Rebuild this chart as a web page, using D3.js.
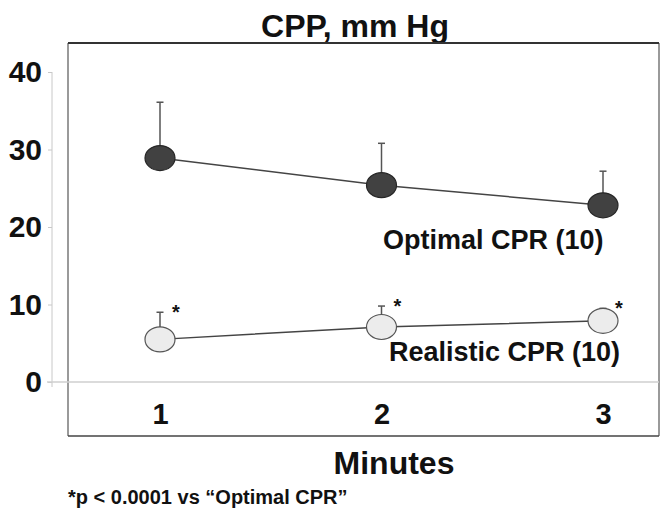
<!DOCTYPE html>
<html>
<head>
<meta charset="utf-8">
<script src="https://cdn.jsdelivr.net/npm/d3@7"></script>
<style>
  body { margin: 0; background: #fff; }
  text { font-family: "Liberation Sans", Arial, sans-serif; font-weight: bold; fill: #111; }
</style>
</head>
<body>
<div id="chart"></div>
<script>
// data
var minutes = [1, 2, 3]
var optimalMean = [28.9, 25.4, 22.8]
var optimalErr = [7.2, 5.4, 4.4]
var realisticMean = [5.5, 7.1, 7.9]
var realisticErr = [3.5, 2.7, 1.6]
var yTicks = [0, 10, 20, 30, 40]

var width = 665, height = 509

var svg = d3.select("#chart")
  .append("svg")
  .attr("width", width)
  .attr("height", height)

// scales
var x = d3.scaleLinear().domain([1, 3]).range([160, 603])
var y = d3.scaleLinear().domain([0, 40]).range([382, 72])

// title
svg.append("text")
  .attr("x", 355)
  .attr("y", 37)
  .attr("text-anchor", "middle")
  .style("font-size", "32px")
  .text("CPP, mm Hg")

// frame
var box = { left: 68, top: 43, right: 659, bottom: 436 }
svg.append("line").attr("x1", box.left).attr("x2", box.left).attr("y1", box.top).attr("y2", box.bottom)
  .attr("stroke", "#9a9a9a").attr("stroke-width", 2)
svg.append("line").attr("x1", box.right).attr("x2", box.right).attr("y1", box.top).attr("y2", box.bottom)
  .attr("stroke", "#9a9a9a").attr("stroke-width", 2)
svg.append("line").attr("x1", box.left).attr("x2", box.right).attr("y1", box.top).attr("y2", box.top)
  .attr("stroke", "#333").attr("stroke-width", 2)
svg.append("line").attr("x1", box.left).attr("x2", box.right).attr("y1", box.bottom).attr("y2", box.bottom)
  .attr("stroke", "#444").attr("stroke-width", 1.5)

// y axis (light grey, outside the box)
var yAxis = svg.append("g")
  .attr("transform", "translate(52,0)")
  .call(d3.axisLeft(y).tickValues(yTicks).tickSize(4).tickSizeOuter(0).tickFormat(d3.format("d")))
yAxis.select(".domain").attr("stroke", "#c8c8c8").attr("d", "M0," + y(40) + "V" + (y(0) + 5))
yAxis.selectAll(".tick line").attr("stroke", "#c8c8c8")
yAxis.selectAll(".tick text")
  .attr("x", -10)
  .style("font-size", "30px")
  .style("font-family", "Liberation Sans, Arial, sans-serif")
  .style("font-weight", "bold")
  .attr("fill", "#111")

// zero line
svg.append("line")
  .attr("x1", 47).attr("x2", box.right)
  .attr("y1", y(0)).attr("y2", y(0))
  .attr("stroke", "#cfcfcf").attr("stroke-width", 1.5)

// x axis labels
var xAxis = svg.append("g")
  .attr("transform", "translate(0," + y(0) + ")")
  .call(d3.axisBottom(x).tickValues(minutes).tickSize(0).tickFormat(d3.format("d")))
xAxis.select(".domain").remove()
xAxis.selectAll(".tick text")
  .attr("dy", 0)
  .attr("y", 42)
  .style("font-size", "29px")
  .style("font-family", "Liberation Sans, Arial, sans-serif")
  .style("font-weight", "bold")
  .attr("fill", "#111")

svg.append("text")
  .attr("x", 394)
  .attr("y", 474)
  .attr("text-anchor", "middle")
  .style("font-size", "32px")
  .text("Minutes")

svg.append("text")
  .attr("x", 68)
  .attr("y", 504)
  .style("font-size", "20px")
  .text("*p < 0.0001 vs \u201cOptimal CPR\u201d")

// series
var series = [
  { name: "Optimal CPR (10)", mean: optimalMean, err: optimalErr, fill: "#414141", stroke: "#262626", star: false },
  { name: "Realistic CPR (10)", mean: realisticMean, err: realisticErr, fill: "#ececec", stroke: "#555", star: true }
]

var line = d3.line()
  .x(function (d) { return x(d.m) })
  .y(function (d) { return y(d.v) })

series.forEach(function (s) {
  var pts = minutes.map(function (m, i) { return { m: m, v: s.mean[i], e: s.err[i] } })

  // error bars (upper only)
  var g = svg.append("g")
  g.selectAll(".err")
    .data(pts).enter()
    .append("line")
    .attr("x1", function (d) { return x(d.m) })
    .attr("x2", function (d) { return x(d.m) })
    .attr("y1", function (d) { return y(d.v) })
    .attr("y2", function (d) { return y(d.v + d.e) })
    .attr("stroke", "#555").attr("stroke-width", 1.5)
  g.selectAll(".cap")
    .data(pts).enter()
    .append("line")
    .attr("x1", function (d) { return x(d.m) - 3.5 })
    .attr("x2", function (d) { return x(d.m) + 3.5 })
    .attr("y1", function (d) { return y(d.v + d.e) })
    .attr("y2", function (d) { return y(d.v + d.e) })
    .attr("stroke", "#555").attr("stroke-width", 1.5)

  g.append("path")
    .datum(pts)
    .attr("d", line)
    .attr("fill", "none")
    .attr("stroke", "#444")
    .attr("stroke-width", 1.5)

  g.selectAll("ellipse")
    .data(pts).enter()
    .append("ellipse")
    .attr("cx", function (d) { return x(d.m) })
    .attr("cy", function (d) { return y(d.v) })
    .attr("rx", 15)
    .attr("ry", 12.5)
    .attr("fill", s.fill)
    .attr("stroke", s.stroke)
    .attr("stroke-width", 1.2)

  if (s.star) {
    g.selectAll(".star")
      .data(pts).enter()
      .append("text")
      .attr("x", function (d) { return x(d.m) + 16 })
      .attr("y", function (d) { return y(d.v + d.e) + 7 })
      .attr("text-anchor", "middle")
      .style("font-size", "20px")
      .text("*")
  }
})

// series labels
svg.append("text")
  .attr("x", 383)
  .attr("y", 249)
  .style("font-size", "27px")
  .text(series[0].name)

svg.append("text")
  .attr("x", 389)
  .attr("y", 361)
  .style("font-size", "27px")
  .text(series[1].name)
</script>
</body>
</html>
